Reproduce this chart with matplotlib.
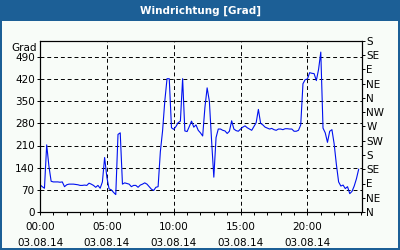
import numpy as np
import matplotlib
matplotlib.use('Agg')
import matplotlib.pyplot as plt
from matplotlib.patches import Rectangle

# Windrichtung in Grad, alle 10 Minuten ab 03.08.14 00:00
wind_deg = [
    86, 80, 75, 212, 145, 97, 95, 95, 95, 94, 95, 80,
    86, 88, 88, 88, 87, 86, 84, 84, 85, 84, 91, 88,
    84, 78, 84, 75, 95, 172, 110, 73, 70, 62, 55, 245,
    250, 88, 92, 90, 88, 80, 84, 84, 78, 85, 88, 92,
    88, 80, 72, 68, 78, 80, 190, 256, 350, 421, 421, 266,
    261, 270, 282, 287, 421, 256, 254, 270, 287, 268, 275, 258,
    250, 240, 330, 392, 350, 225, 110, 235, 262, 262, 258, 256,
    248, 255, 288, 262, 257, 255, 262, 268, 272, 266, 262, 258,
    270, 282, 324, 280, 275, 268, 265, 262, 264, 260, 258, 262,
    262, 260, 263, 263, 262, 262, 255, 255, 258, 275, 405, 418,
    420, 440, 438, 437, 415, 450, 505, 265, 250, 220, 255, 260,
    215, 150, 95, 82, 85, 74, 80, 58, 65, 82, 105, 135,
]
step_min = 10

left_ticks = [0, 70, 140, 210, 280, 350, 420, 490]
compass_ticks = [0, 45, 90, 135, 180, 225, 270, 315, 360, 405, 450, 495, 540]
compass_labels = ['N', 'NE', 'E', 'SE', 'S', 'SW', 'W', 'NW', 'N', 'NE', 'E', 'SE', 'S']
x_major = [0, 5, 10, 15, 20]
x_labels = ['00:00\n03.08.14', '05:00\n03.08.14', '10:00\n03.08.14',
            '15:00\n03.08.14', '20:00\n03.08.14']

bg = '#f8fcf8'
frame_blue = '#1c5f96'
W, H = 400, 250

hours = np.arange(len(wind_deg)) * step_min / 60.0

fig = plt.figure(figsize=(4, 2.5), dpi=100, facecolor=bg)

# Titelleiste + Rahmen
fig.patches.append(Rectangle((0, 1 - 21 / H), 1, 21 / H, transform=fig.transFigure,
                             facecolor=frame_blue, edgecolor='none'))
for r in [(0, 0, 2 / W, 1), (1 - 2 / W, 0, 2 / W, 1), (0, 0, 1, 2 / H)]:
    fig.patches.append(Rectangle(r[:2], r[2], r[3], transform=fig.transFigure,
                                 facecolor=frame_blue, edgecolor='none'))
fig.text(0.5, 1 - 10.5 / H, 'Windrichtung [Grad]', color='white', fontsize=7.5,
         fontweight='bold', ha='center', va='center')

ax = fig.add_axes([40 / W, 1 - 212 / H, 321.7 / W, 171 / H])
ax.set_facecolor(bg)
ax.plot(hours, wind_deg, color='#0010f0', lw=0.8)

ax.set_xlim(0, 24.06)
ax.set_ylim(0, 540)

ax.set_yticks(left_ticks)
ax.set_yticklabels([str(v) for v in left_ticks])
ax.set_xticks(x_major)
ax.set_xticklabels(x_labels, linespacing=1.75)
ax.set_xticks(range(0, 25), minor=True)

ax.tick_params(axis='both', which='both', direction='out', length=2.3, width=0.7,
               labelsize=7.5, color='black', pad=1.5)
ax.tick_params(axis='x', pad=5)

ax.grid(True, which='major', color='black', linestyle=(0, (4, 3)), linewidth=0.7)

for sp in ax.spines.values():
    sp.set_linewidth(0.8)
    sp.set_color('black')

ax.text(-0.009, 518, 'Grad', transform=ax.get_yaxis_transform(), ha='right', va='center',
        fontsize=7.5)

ax2 = ax.twinx()
ax2.set_ylim(0, 540)
ax2.set_yticks(compass_ticks)
ax2.set_yticklabels(compass_labels)
ax2.tick_params(axis='y', direction='out', length=2.3, width=0.7, labelsize=7.5, pad=1)
for sp in ax2.spines.values():
    sp.set_linewidth(0.8)

fig.savefig('out.png', dpi=100, facecolor=bg)
